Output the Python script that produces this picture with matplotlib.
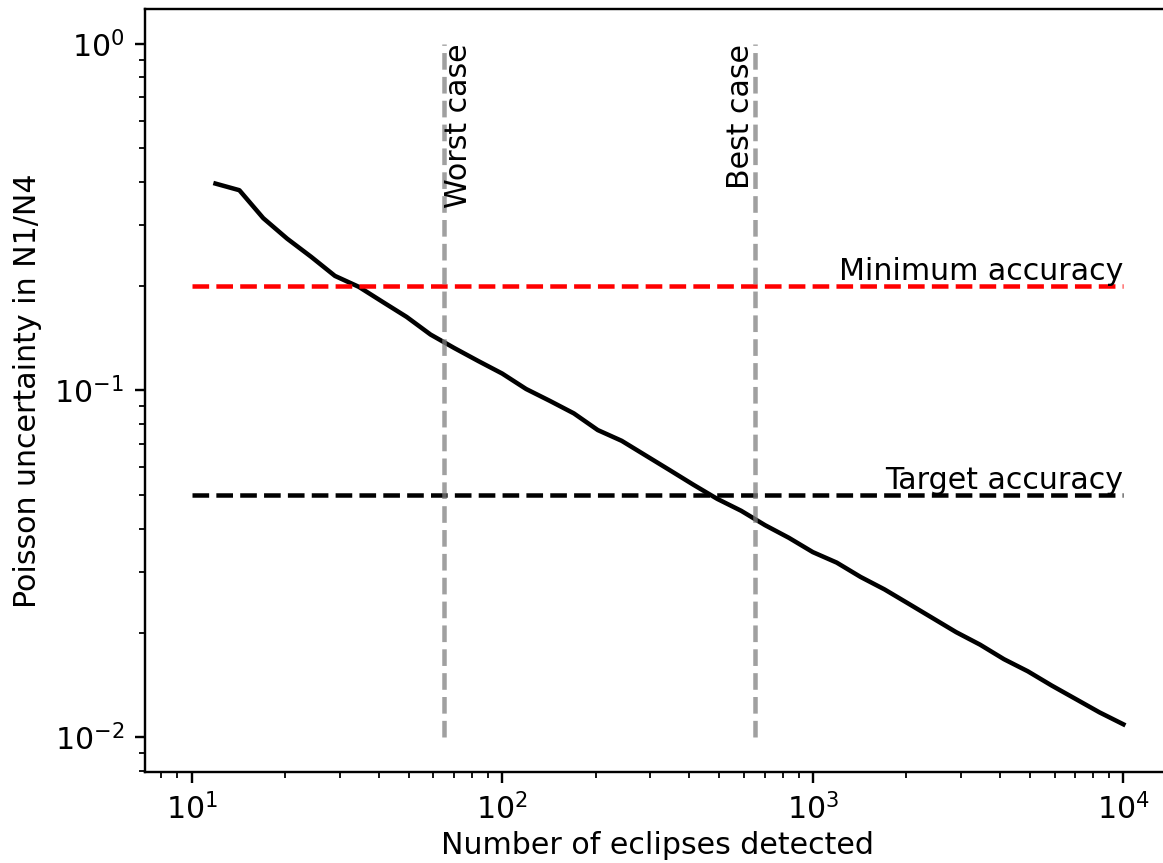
####### IMPORT BLOCK #######

import matplotlib
matplotlib.use("Agg")
import matplotlib.pyplot as plt

####### DATA BLOCK #######

# number of eclipses (log spaced grid)
n_eclipses = [11.94, 14.25, 17.01, 20.31, 24.25, 28.94, 34.55, 41.25, 49.24, 58.78,
              70.17, 83.77, 100.0, 119.4, 142.5, 170.1, 203.1, 242.5, 289.4, 345.5,
              412.5, 492.4, 587.8, 701.7, 837.7, 1000.0, 1193.8, 1425.1, 1701.3, 2030.9,
              2424.5, 2894.3, 3455.1, 4124.6, 4923.9, 5878.0, 7017.0, 8376.8, 10000.0]

# poisson uncertainty in N1/N4
uncertainty = [0.395, 0.378, 0.314, 0.274, 0.243, 0.214, 0.199, 0.180, 0.163, 0.145,
               0.1325, 0.1216, 0.1119, 0.1010, 0.0933, 0.0859, 0.0769, 0.0716, 0.0650, 0.0590,
               0.0535, 0.0487, 0.0450, 0.0409, 0.0376, 0.0342, 0.0319, 0.0290, 0.0267, 0.0243,
               0.0221, 0.0201, 0.0185, 0.0168, 0.0155, 0.0141, 0.0129, 0.0118, 0.0109]

accuracy_levels = [0.2, 0.05]
accuracy_labels = ["Minimum accuracy", "Target accuracy"]
accuracy_colors = ["red", "black"]

case_x = [65, 650]
case_labels = ["Worst case", "Best case"]
case_align = ["left", "right"]

####### PLOT BLOCK #######

def make_plot():
    fig = plt.figure(figsize=(1163 / 216, 863 / 216), dpi=216)
    ax = fig.add_axes([145 / 1163, 91 / 863, 1025 / 1163, 763 / 863])

    ax.plot(n_eclipses, uncertainty, color="black", lw=1.5)

    for level, label, col in zip(accuracy_levels, accuracy_labels, accuracy_colors):
        ax.hlines(level, 10, 1e4, colors=col, linestyles="--", lw=1.5)
        ax.text(1e4, level, label, ha="right", va="bottom")

    for cx, label, al in zip(case_x, case_labels, case_align):
        ax.vlines(cx, 0.01, 1, colors="gray", alpha=0.75, linestyles="--", lw=1.5)
        ax.text(cx, 1, label, rotation=90, ha=al, va="top")

    ax.set_xscale("log")
    ax.set_yscale("log")
    ax.set_xlim(10 ** 0.85, 10 ** 4.15)
    ax.set_ylim(10 ** -2.1, 10 ** 0.1)

    ax.set_xlabel("Number of eclipses detected", labelpad=2)
    ax.set_ylabel("Poisson uncertainty in N1/N4")

    fig.savefig("out.png", dpi=216)


def main():
    make_plot()


if __name__ == '__main__':
    main()
